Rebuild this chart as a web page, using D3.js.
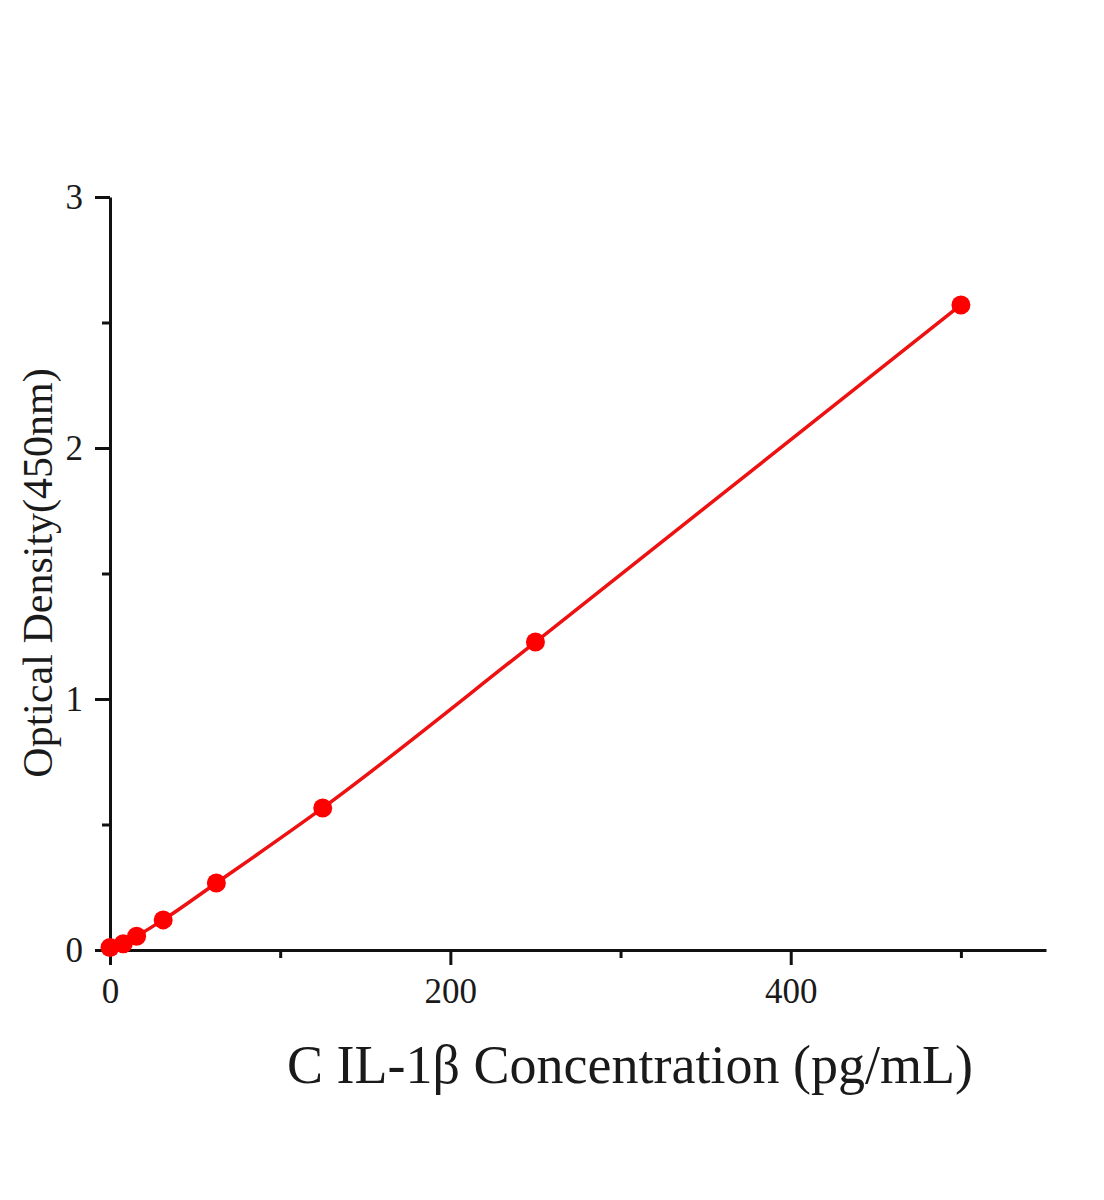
<!DOCTYPE html>
<html>
<head>
<meta charset="utf-8">
<script src="https://cdn.jsdelivr.net/npm/d3@7"></script>
<style>
  body { margin: 0; background: #fff; }
  svg text { font-family: "Liberation Serif", "Times New Roman", serif; fill: #1a1a1a; }
  .axis path, .axis line { stroke: #111; stroke-width: 3; }
</style>
</head>
<body>
<svg width="1104" height="1200"></svg>
<script>
// standard curve data
var concentrations = [0, 7.81, 15.63, 31.25, 62.5, 125, 250, 500];
var densities = [0.01, 0.025, 0.055, 0.12, 0.267, 0.566, 1.227, 2.57];

var xMajorTicks = [0, 200, 400];
var xMinorTicks = [100, 300, 500];
var yMajorTicks = [0, 1, 2, 3];
var yMinorTicks = [0.5, 1.5, 2.5];

var xTitle = "C IL-1\u03b2 Concentration (pg/mL)";
var yTitle = "Optical Density(450nm)";

var svg = d3.select("svg");

var x = d3.scaleLinear().domain([0, 550]).range([110, 1046]);
var y = d3.scaleLinear().domain([0, 3]).range([950, 197]);

// minor ticks first so the main axis line sits on top
svg.append("g")
  .attr("class", "axis")
  .attr("transform", "translate(0,950)")
  .call(d3.axisBottom(x).tickValues(xMinorTicks).tickSize(8).tickSizeOuter(0).tickFormat(""))
  .select(".domain").remove();

svg.append("g")
  .attr("class", "axis")
  .attr("transform", "translate(110,0)")
  .call(d3.axisLeft(y).tickValues(yMinorTicks).tickSize(8).tickSizeOuter(0).tickFormat(""))
  .select(".domain").remove();

svg.append("g")
  .attr("class", "axis")
  .attr("transform", "translate(0,950)")
  .call(d3.axisBottom(x).tickValues(xMajorTicks).tickFormat(d3.format("d"))
    .tickSize(15).tickSizeOuter(0).tickPadding(13));

svg.append("g")
  .attr("class", "axis")
  .attr("transform", "translate(110,0)")
  .call(d3.axisLeft(y).tickValues(yMajorTicks).tickFormat(d3.format("d"))
    .tickSize(15).tickSizeOuter(0).tickPadding(12));

svg.selectAll(".axis text")
  .attr("font-family", "Liberation Serif")
  .attr("font-size", 35)
  .attr("fill", "#1a1a1a");

// curve
var line = d3.line()
  .x(function(d, i) { return x(concentrations[i]); })
  .y(function(d) { return y(d); })
  .curve(d3.curveMonotoneX);

svg.append("path")
  .datum(densities)
  .attr("d", line)
  .attr("fill", "none")
  .attr("stroke", "#ee1111")
  .attr("stroke-width", 3.5);

svg.selectAll(".dot")
  .data(densities)
  .enter().append("circle")
    .attr("class", "dot")
    .attr("cx", function(d, i) { return x(concentrations[i]); })
    .attr("cy", function(d) { return y(d); })
    .attr("r", 9.5)
    .attr("fill", "#ff0000");

// titles
svg.append("text")
  .attr("x", 630)
  .attr("y", 1083)
  .attr("text-anchor", "middle")
  .attr("font-size", 54)
  .text(xTitle);

svg.append("text")
  .attr("transform", "translate(52,573) rotate(-90)")
  .attr("text-anchor", "middle")
  .attr("font-size", 42)
  .text(yTitle);
</script>
</body>
</html>
